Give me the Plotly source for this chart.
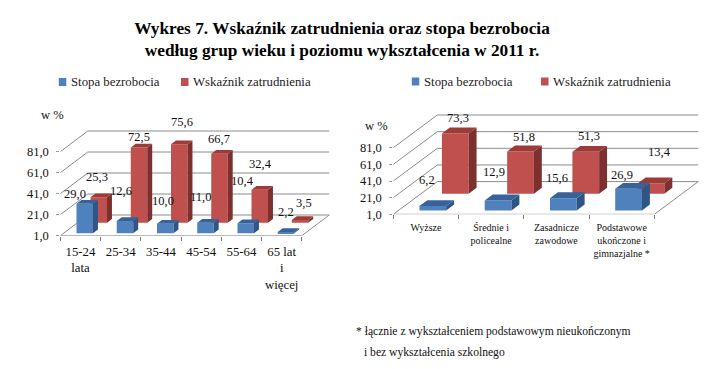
import plotly.graph_objects as go

# ---- data ----
age_groups = ["15-24<br>lata", "25-34", "35-44", "45-54", "55-64", "65 lat<br>i<br>więcej"]
age_unemployment = [29.0, 12.6, 10.0, 11.0, 10.4, 2.2]
age_employment = [25.3, 72.5, 75.6, 66.7, 32.4, 3.5]

edu_groups = ["Wyższe", "Średnie i<br>policealne", "Zasadnicze<br>zawodowe",
              "Podstawowe<br>ukończone i<br>gimnazjalne *"]
edu_unemployment = [6.2, 12.9, 15.6, 26.9]
edu_employment = [73.3, 51.8, 51.3, 13.4]

y_ticks = [1, 21, 41, 61, 81]
y_tick_text = ["1,0", "21,0", "41,0", "61,0", "81,0"]
series_names = ["Stopa bezrobocia", "Wskaźnik zatrudnienia"]

# ---- label nudges (px) relative to each bar's front-top centre ----
age_u_nudge = [(-10, 10), (-4, 30), (-2.5, 23), (-5, 26), (-3, 42), (0, 20)]
age_e_nudge = [(-2, 20), (0, 11), (2.5, 22), (-1, 15), (1, 26), (4, 17)]
edu_u_nudge = [(-6, 26), (-4.5, 28), (-6, 20), (-7, 13.5)]
edu_e_nudge = [(3, 16), (3, 14), (3, 16), (8, 31)]

W, H = 709, 369
FONT = "Liberation Serif"
BLUE = dict(front="#4f81bd", side="#2f5585", top="#37629a")
RED = dict(front="#bf504d", side="#7c3030", top="#9e3b38")
GRID = "#8c8c8c"
BAR_OFF, BAR_W = 0.32, 0.41
D_BLUE = (0.12, 0.30)
D_RED = (0.63, 0.81)

fig = go.Figure()
shapes, annotations = [], []


def text(x, y, s, size, anchor="left", color="#111111"):
    annotations.append(dict(x=x / W, y=1 - y / H, xref="paper", yref="paper", text=s,
                            showarrow=False, xanchor=anchor, yanchor="middle", align="left",
                            font=dict(family=FONT, size=size, color=color)))


def swatch(x, y, color):
    shapes.append(dict(type="rect", xref="paper", yref="paper", x0=x / W, x1=(x + 7.5) / W,
                       y0=1 - (y + 4) / H, y1=1 - (y - 4) / H, fillcolor=color,
                       line=dict(width=0)))


def panel(idx, cats, unemp, emp, nudge_u, nudge_e, x0_px, x1_px, cat_px, y0_px, top_px,
          unit_px, depth_x_px, depth_y_px, lab_size, cat_size, standoff):
    n = len(cats)
    sx = "" if idx == 1 else str(idx)
    xa, ya = "x" + sx, "y" + sx
    dx = depth_x_px / cat_px
    dy = depth_y_px / unit_px

    def pr(x, v, d):
        return x + d * dx, v + d * dy

    def line(pts, color=GRID, w=1):
        path = "M " + " L ".join(f"{a},{b}" for a, b in pts)
        shapes.append(dict(type="path", path=path, xref=xa, yref=ya, layer="below",
                           line=dict(color=color, width=w)))

    for v in y_ticks:
        line([pr(0, v, 0), pr(0, v, 1), pr(n, v, 1)])
    line([pr(0, 1, 0), pr(n, 1, 0), pr(n, 1, 1)])

    for vals, col, (d0, d1), nm in ((emp, RED, D_RED, series_names[1]),
                                    (unemp, BLUE, D_BLUE, series_names[0])):
        fig.add_trace(go.Bar(
            x=[pr(i + BAR_OFF + BAR_W / 2, 1, d0)[0] for i in range(n)],
            y=[v - 1 for v in vals],
            base=[pr(0, 1, d0)[1]] * n,
            width=BAR_W, marker=dict(color=col["front"], line=dict(width=0)),
            xaxis=xa, yaxis=ya, name=nm, showlegend=False))
    for vals, col, (d0, d1), nm in ((emp, RED, D_RED, series_names[1]),
                                    (unemp, BLUE, D_BLUE, series_names[0])):
        for i, v in enumerate(vals):
            l, r = i + BAR_OFF, i + BAR_OFF + BAR_W
            side = [pr(r, 1, d0), pr(r, 1, d1), pr(r, v, d1), pr(r, v, d0), pr(r, 1, d0)]
            top = [pr(l, v, d0), pr(r, v, d0), pr(r, v, d1), pr(l, v, d1), pr(l, v, d0)]
            for poly, c in ((side, col["side"]), (top, col["top"])):
                fig.add_trace(go.Scatter(
                    x=[p[0] for p in poly], y=[p[1] for p in poly], mode="lines",
                    fill="toself", fillcolor=c, line=dict(width=0, color=c),
                    xaxis=xa, yaxis=ya, hoverinfo="skip", showlegend=False))

    for vals, nud, (d0, _) in ((unemp, nudge_u, D_BLUE), (emp, nudge_e, D_RED)):
        for i, (v, (nx, ny)) in enumerate(zip(vals, nud)):
            px, py = pr(i + BAR_OFF + BAR_W / 2, v, d0)
            annotations.append(dict(
                x=px, y=py, xref=xa, yref=ya, text=f"{v:.1f}".replace(".", ","),
                showarrow=False, xshift=nx, yshift=ny, xanchor="center", yanchor="middle",
                font=dict(family=FONT, size=lab_size, color="#111111")))

    xrange = [0, (x1_px - x0_px) / cat_px]
    yrange = [1, 1 + (y0_px - top_px) / unit_px]
    fig.update_layout(**{
        ("xaxis" + sx): dict(
            domain=[x0_px / W, x1_px / W], range=xrange, anchor=ya, showgrid=False,
            automargin=False, zeroline=False, showline=False, tickmode="array",
            tickvals=[i + 0.5 for i in range(n)], ticktext=cats, ticks="",
            ticklabelstandoff=standoff,
            tickfont=dict(family=FONT, size=cat_size, color="#111111"),
            minor=dict(tickmode="array", tickvals=list(range(n + 1)), ticks="outside",
                       ticklen=4, tickcolor="#777777", showgrid=False)),
        ("yaxis" + sx): dict(
            domain=[1 - y0_px / H, 1 - top_px / H], range=yrange, anchor=xa, showgrid=False,
            automargin=False, zeroline=False, showline=False, tickmode="array", tickvals=y_ticks,
            ticktext=y_tick_text, ticks="outside", ticklen=3, tickcolor="#999999",
            ticklabelstandoff=5,
            tickfont=dict(family=FONT, size=12.5, color="#111111")),
    })


panel(1, age_groups, age_unemployment, age_employment, age_u_nudge, age_e_nudge,
      60.3, 335, 40.25, 235.7, 120, 1.05, 27.5, 20.7, 12.5, 12.8, 6)
panel(2, edu_groups, edu_unemployment, edu_employment, edu_u_nudge, edu_e_nudge,
      393.3, 705, 65.25, 214.3, 100, 0.8325, 44, 32.7, 12.5, 10, 6)

swatch(58.8, 82, BLUE["front"])
text(69, 82, series_names[0], 12.8, color="#222222")
swatch(181, 82, RED["front"])
text(190.7, 82, series_names[1], 12.8, color="#222222")
swatch(411.8, 81.5, BLUE["front"])
text(421.7, 81.5, series_names[0], 12.8, color="#222222")
swatch(541, 81.5, RED["front"])
text(550.7, 81.5, series_names[1], 12.8, color="#222222")

text(52, 115, "w %", 12.5, "center")
text(377, 126, "w %", 12.5, "center")
text(354, 331.7, "* łącznie z wykształceniem podstawowym nieukończonym", 11.6)
text(362, 352.7, "i bez wykształcenia szkolnego", 11.6)

fig.update_layout(
    width=W, height=H, margin=dict(l=0, r=0, t=0, b=0), autosize=False, showlegend=False,
    paper_bgcolor="white", plot_bgcolor="rgba(0,0,0,0)", barmode="overlay",
    shapes=shapes, annotations=annotations,
    title=dict(text="Wykres 7. Wskaźnik zatrudnienia oraz stopa bezrobocia<br>"
                    "według grup wieku i poziomu wykształcenia w 2011 r.",
               x=342 / W, xanchor="center", y=1 - 34 / H, yanchor="top",
               font=dict(family=FONT, size=17.3, color="#000000", weight="bold")),
)

fig.write_html("out.html", config=dict(displayModeBar=False),
               post_script="document.body.style.margin='0';")
